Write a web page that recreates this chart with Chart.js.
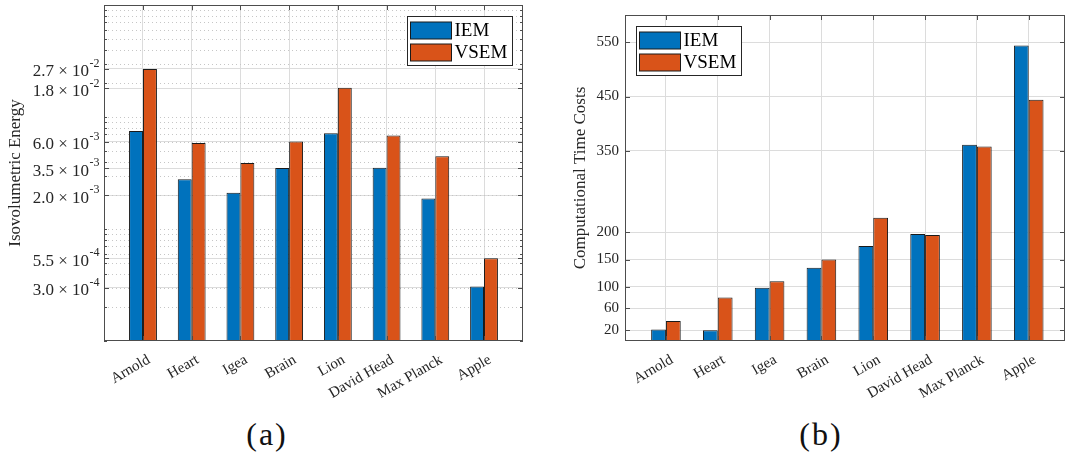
<!DOCTYPE html>
<html>
<head>
<meta charset="utf-8">
<title>IEM vs VSEM</title>
<script src="https://cdn.jsdelivr.net/npm/chart.js@4.4.0/dist/chart.umd.min.js"></script>
<style>
  body { margin: 0; background: #fff; width: 1067px; height: 462px; position: relative; overflow: hidden; }
  .panel { position: absolute; top: 0; height: 400px; }
  #panelA { left: 0; width: 533px; }
  #panelB { left: 533px; width: 534px; }
  .caption { position: absolute; top: 414px; width: 100px; line-height: 40px; text-align: center;
             font-family: "Liberation Serif", "Times New Roman", serif; font-size: 32px; letter-spacing: 2px; color: #111; }
</style>
</head>
<body>
<div class="panel" id="panelA"><canvas id="energyChart"></canvas></div>
<div class="panel" id="panelB"><canvas id="timeChart"></canvas></div>
<div class="caption" style="left:217px">(a)</div>
<div class="caption" style="left:771px">(b)</div>
<script>
const categories = ['Arnold', 'Heart', 'Igea', 'Brain', 'Lion', 'David Head', 'Max Planck', 'Apple'];
const seriesNames = ['IEM', 'VSEM'];
const seriesColors = ['#0072BD', '#D95319'];

// (a) isovolumetric energy, log axis
const energyIEM  = [7.5e-3, 2.78e-3, 2.11e-3, 3.5e-3, 7.15e-3, 3.52e-3, 1.87e-3, 3.06e-4];
const energyVSEM = [2.68e-2, 5.86e-3, 3.88e-3, 6.03e-3, 1.82e-2, 6.82e-3, 4.46e-3, 5.47e-4];
const energyTicks = [3.0e-4, 5.5e-4, 2.0e-3, 3.5e-3, 6.0e-3, 1.8e-2, 2.7e-2];
const energyTickMantissa = ['3.0', '5.5', '2.0', '3.5', '6.0', '1.8', '2.7'];
const energyTickExponent = ['-4', '-4', '-3', '-3', '-3', '-2', '-2'];

// (b) computational time costs
const timeIEM  = [21, 20, 98, 135, 175, 197, 361, 544];
const timeVSEM = [37, 80, 110, 150, 227, 195, 358, 444];
const timeTicks = [20, 60, 100, 150, 200, 350, 450, 550];

const FONT = '"Liberation Serif", "Times New Roman", serif';
const TEXT = '#262626';
const GRID = '#dcdcdc';
const MINOR = '#c6c6c6';
const AXIS = '#4d4d4d';
const EDGE = '#1a1a1a';

function hline(ctx, x1, x2, y) { ctx.beginPath(); ctx.moveTo(x1, y); ctx.lineTo(x2, y); ctx.stroke(); }
function vline(ctx, x, y1, y2) { ctx.beginPath(); ctx.moveTo(x, y1); ctx.lineTo(x, y2); ctx.stroke(); }

function logMinorValues(scale) {
  const out = [];
  for (let k = Math.floor(Math.log10(scale.min)); k < Math.ceil(Math.log10(scale.max)); k++) {
    for (let m = 1; m <= 9; m++) {
      const v = m * Math.pow(10, k);
      if (v >= scale.min && v <= scale.max) out.push(v);
    }
  }
  return out;
}

function drawLegend(chart, side) {
  const { ctx, chartArea: a } = chart;
  const sets = chart.data.datasets;
  ctx.save();
  ctx.font = '19px ' + FONT;
  const textW = Math.max(...sets.map(d => ctx.measureText(d.label).width));
  const w = Math.round(3 + 41 + 3 + textW + 5);
  const h = 49;
  const left = Math.round(side === 'right' ? a.right - 11 - w : a.left + 11) + 0.5;
  const top = Math.round(a.top + 11) + 0.5;
  ctx.lineWidth = 1;
  ctx.fillStyle = '#fff';
  ctx.fillRect(left, top, w, h);
  ctx.strokeStyle = TEXT;
  ctx.strokeRect(left, top, w, h);
  sets.forEach((d, i) => {
    const sy = Math.round(top + 5 + i * 22.5);
    ctx.fillStyle = d.backgroundColor;
    ctx.fillRect(left + 3, sy, 41, 17);
    ctx.strokeStyle = EDGE;
    ctx.strokeRect(left + 3, sy, 41, 17);
    ctx.fillStyle = '#000';
    ctx.textBaseline = 'middle';
    ctx.textAlign = 'left';
    ctx.fillText(d.label, left + 47, sy + 9);
  });
  ctx.restore();
}

// matlab-ish box, inward ticks, minor log grid, legend
const matlabAxes = {
  id: 'matlabAxes',
  beforeDatasetsDraw(chart, args, o) {
    if (!o.logMinor) return;
    const { ctx, chartArea: a, scales: { y } } = chart;
    ctx.save();
    ctx.lineWidth = 1;
    ctx.strokeStyle = MINOR;
    ctx.setLineDash([1, 3]);
    logMinorValues(y).forEach(v => {
      const py = Math.round(y.getPixelForValue(v)) + 0.5;
      if (py > a.top + 1 && py < a.bottom - 1) hline(ctx, a.left, a.right, py);
    });
    ctx.restore();
  },
  afterDatasetsDraw(chart, args, o) {
    const { ctx, chartArea: a, scales: { x, y } } = chart;
    ctx.save();
    ctx.lineWidth = 1;
    ctx.strokeStyle = AXIS;
    x.ticks.forEach(t => {
      const px = Math.round(x.getPixelForValue(t.value)) + 0.5;
      vline(ctx, px, a.top, a.top + 5);
      vline(ctx, px, a.bottom, a.bottom - 5);
    });
    y.ticks.forEach(t => {
      const py = Math.round(y.getPixelForValue(t.value)) + 0.5;
      hline(ctx, a.left, a.left + 5, py);
      hline(ctx, a.right - 5, a.right, py);
    });
    if (o.logMinor) {
      logMinorValues(y).forEach(v => {
        const py = Math.round(y.getPixelForValue(v)) + 0.5;
        hline(ctx, a.left, a.left + 3, py);
        hline(ctx, a.right - 3, a.right, py);
      });
    }
    ctx.strokeRect(Math.round(a.left) + 0.5, Math.round(a.top) + 0.5,
                   Math.round(a.right - a.left) - 1, Math.round(a.bottom - a.top) - 1);
    ctx.restore();
  },
  afterDraw(chart, args, o) {
    const { ctx, chartArea: a, scales: { y } } = chart;
    if (o.expLabels) {
      const { values, mantissas, exponents } = o.expLabels;
      ctx.save();
      ctx.fillStyle = TEXT;
      ctx.textBaseline = 'middle';
      ctx.textAlign = 'left';
      values.forEach((v, i) => {
        const py = y.getPixelForValue(v);
        const base = mantissas[i] + ' \u00d7 10';
        ctx.font = '17px ' + FONT;
        const bw = ctx.measureText(base).width;
        ctx.font = '12px ' + FONT;
        const ew = ctx.measureText(exponents[i]).width;
        const x0 = a.left - 5 - bw - ew;
        ctx.font = '17px ' + FONT;
        ctx.fillText(base, x0, py + 3);
        ctx.font = '12px ' + FONT;
        ctx.fillText(exponents[i], x0 + bw + 0.5, py - 5);
      });
      ctx.restore();
    }
    drawLegend(chart, o.legendSide);
  }
};

function barSets(a, b) {
  return [a, b].map((vals, s) => ({
    label: seriesNames[s],
    data: vals.map((v, i) => ({ x: i + 1, y: v })),
    backgroundColor: seriesColors[s],
    borderColor: EDGE,
    borderWidth: 1,
    borderSkipped: false,
    categoryPercentage: 0.571,
    barPercentage: 1
  }));
}

function xAxis(min, max) {
  return {
    type: 'linear', min: min, max: max, offset: false,
    afterBuildTicks: s => { s.ticks = categories.map((_, i) => ({ value: i + 1 })); },
    afterFit: s => { s.height = 59; },
    ticks: {
      autoSkip: false, minRotation: 30, maxRotation: 30, padding: 10, labelOffset: 6,
      font: { family: FONT, size: 15 }, color: TEXT,
      callback: v => categories[v - 1]
    },
    grid: { color: GRID, drawTicks: false, offset: false },
    border: { display: false }
  };
}

// --- (a) Isovolumetric Energy ---
new Chart(document.getElementById('energyChart'), {
  type: 'bar',
  data: { datasets: barSets(energyIEM, energyVSEM) },
  options: {
    responsive: true, maintainAspectRatio: false, animation: false,
    layout: { padding: { top: 5, right: 10, left: 0, bottom: 0 } },
    scales: {
      x: xAxis(0.2, 8.8),
      y: {
        type: 'logarithmic', min: 1e-4, max: 1e-1,
        afterBuildTicks: s => { s.ticks = energyTicks.map(v => ({ value: v })); },
        afterFit: s => { s.width = 104; },
        ticks: { display: false },
        grid: { color: GRID, drawTicks: false },
        border: { display: false },
        title: { display: true, text: 'Isovolumetric Energy', color: TEXT,
                 font: { family: FONT, size: 17 }, padding: { top: 5, bottom: 0 } }
      }
    },
    plugins: {
      legend: { display: false }, tooltip: { enabled: false },
      matlabAxes: { logMinor: true, legendSide: 'right',
        expLabels: { values: energyTicks, mantissas: energyTickMantissa, exponents: energyTickExponent } }
    }
  },
  plugins: [matlabAxes]
});

// --- (b) Computational Time Costs ---
new Chart(document.getElementById('timeChart'), {
  type: 'bar',
  data: { datasets: barSets(timeIEM, timeVSEM) },
  options: {
    responsive: true, maintainAspectRatio: false, animation: false,
    layout: { padding: { top: 5, right: 2, left: 0, bottom: 0 } },
    scales: {
      x: xAxis(0.21, 8.7),
      y: {
        min: 0, max: 600,
        afterBuildTicks: s => { s.ticks = timeTicks.map(v => ({ value: v })); },
        afterFit: s => { s.width = 92; },
        ticks: { font: { family: FONT, size: 15 }, color: TEXT, padding: 6, autoSkip: false },
        grid: { color: GRID, drawTicks: false },
        border: { display: false },
        title: { display: true, text: 'Computational Time Costs', color: TEXT,
                 font: { family: FONT, size: 17 }, padding: { top: 37, bottom: 0 } }
      }
    },
    plugins: {
      legend: { display: false }, tooltip: { enabled: false },
      matlabAxes: { logMinor: false, legendSide: 'left' }
    }
  },
  plugins: [matlabAxes]
});
</script>
</body>
</html>
